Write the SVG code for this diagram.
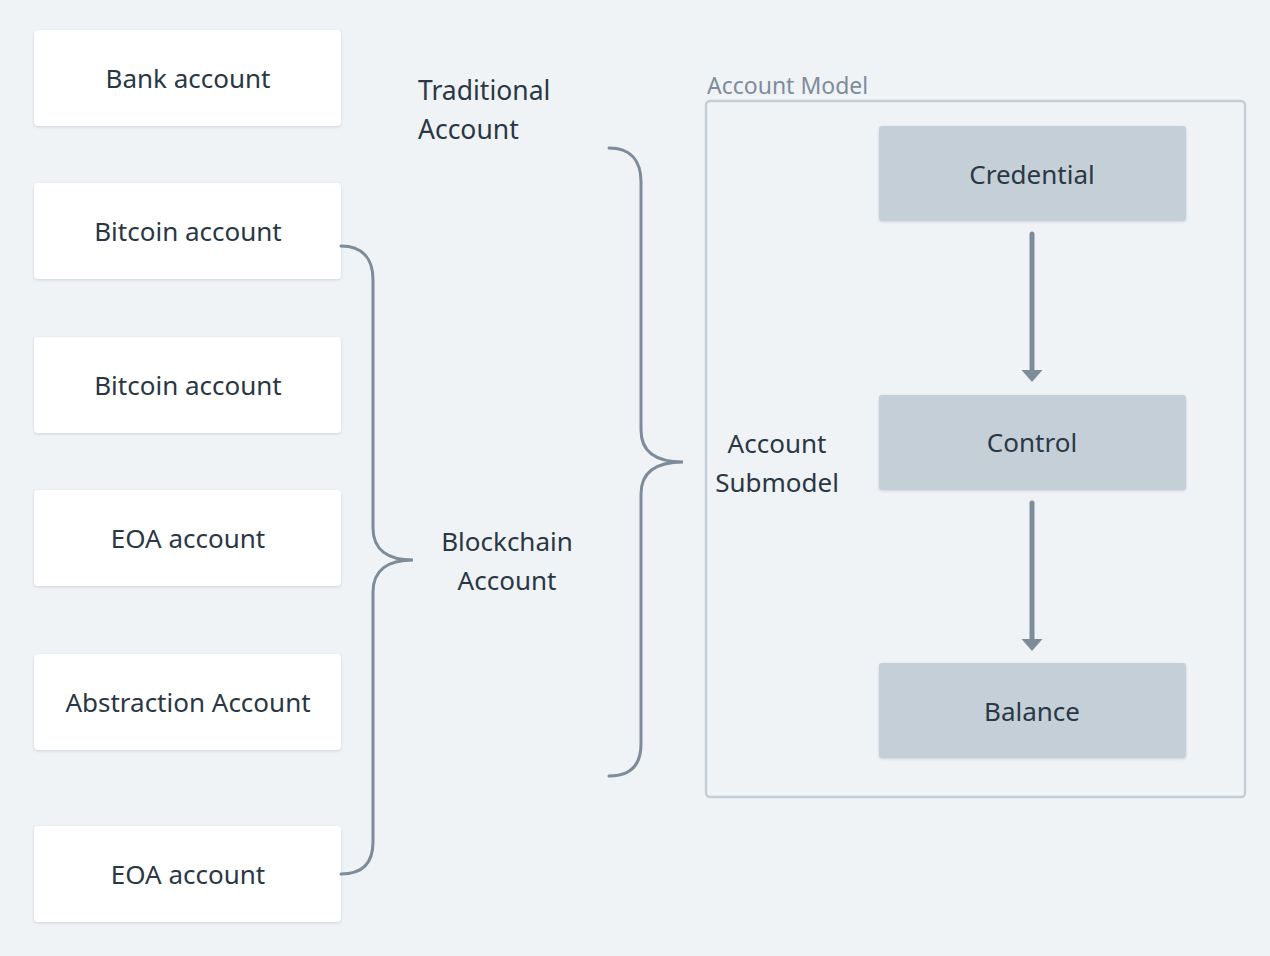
<svg xmlns="http://www.w3.org/2000/svg" width="1270" height="956" viewBox="0 0 1270 956">
<defs>
<style>
.t{font-family:"Noto Sans","DejaVu Sans",sans-serif;font-size:26px;fill:#2a3744;text-anchor:middle}
.tl{font-family:"Noto Sans","DejaVu Sans",sans-serif;font-size:26.5px;fill:#2a3744}
.card{fill:#ffffff;filter:url(#sh)}
.inner{fill:#c5cfd8;filter:url(#sh)}
.brace{fill:none;stroke:#7e8b98;stroke-width:3;stroke-linecap:round}
.arr{stroke:#7e8b98;stroke-width:5;stroke-linecap:round}
</style>
<filter id="sh" x="-10%" y="-10%" width="120%" height="130%">
<feDropShadow dx="0" dy="1" stdDeviation="1.5" flood-color="#8a99a8" flood-opacity="0.35"/>
</filter>
<marker id="ah" viewBox="0 0 12 22" refX="0" refY="11" markerWidth="12" markerHeight="22" orient="auto" markerUnits="userSpaceOnUse">
<path d="M0,0.5 L12,11 L0,21.5 Z" fill="#7e8b98"/>
</marker>
</defs>
<rect width="1270" height="956" fill="#eff3f6"/>
<g id="bank"><rect class="card" x="34" y="30" width="307" height="96" rx="4"/><text class="t" x="188" y="88">Bank account</text></g>
<g id="bitcoin1"><rect class="card" x="34" y="183" width="307" height="96" rx="4"/><text class="t" x="188" y="241">Bitcoin account</text></g>
<g id="bitcoin2"><rect class="card" x="34" y="337" width="307" height="96" rx="4"/><text class="t" x="188" y="395">Bitcoin account</text></g>
<g id="eoa1"><rect class="card" x="34" y="490" width="307" height="96" rx="4"/><text class="t" x="188" y="548">EOA account</text></g>
<g id="abstraction"><rect class="card" x="34" y="654" width="307" height="96" rx="4"/><text class="t" x="188" y="712">Abstraction Account</text></g>
<g id="eoa2"><rect class="card" x="34" y="826" width="307" height="96" rx="4"/><text class="t" x="188" y="884">EOA account</text></g>
<g id="traditional"><text class="tl" x="418" y="100">Traditional</text><text class="tl" x="418" y="139">Account</text></g>
<g id="blockchain"><text class="t" x="507" y="551">Blockchain</text><text class="t" x="507" y="590">Account</text></g>
<g id="account-model">
<rect x="706" y="101" width="539" height="696" rx="4" fill="none" stroke="#c5ced6" stroke-width="2.5"/>
<text x="707" y="94" style="font-family:'Noto Sans','DejaVu Sans',sans-serif;font-size:23px;fill:#7f8c99">Account Model</text>
</g>
<g id="submodel"><text class="t" x="777" y="453">Account</text><text class="t" x="777" y="492">Submodel</text></g>
<g id="credential"><rect class="inner" x="879" y="126" width="307" height="95" rx="3"/><text class="t" x="1032" y="184">Credential</text></g>
<g id="control"><rect class="inner" x="879" y="395" width="307" height="95" rx="3"/><text class="t" x="1032" y="452">Control</text></g>
<g id="balance"><rect class="inner" x="879" y="663" width="307" height="95" rx="3"/><text class="t" x="1032" y="721">Balance</text></g>
<g id="connectors">
<path class="brace" d="M341,246 C362,246 373,258 373,280 L373,528 C373,550 388,560 413,560 C388,560 373,570 373,592 L373,842 C373,864 362,874 341,874"/>
<path class="brace" d="M609,148 C630,148 641,160 641,182 L641,430 C641,452 656,462 683,462 C656,462 641,472 641,494 L641,744 C641,766 630,776 609,776"/>
<line class="arr" x1="1032" y1="234" x2="1032" y2="370" marker-end="url(#ah)"/>
<line class="arr" x1="1032" y1="503" x2="1032" y2="639" marker-end="url(#ah)"/>
</g>
</svg>
